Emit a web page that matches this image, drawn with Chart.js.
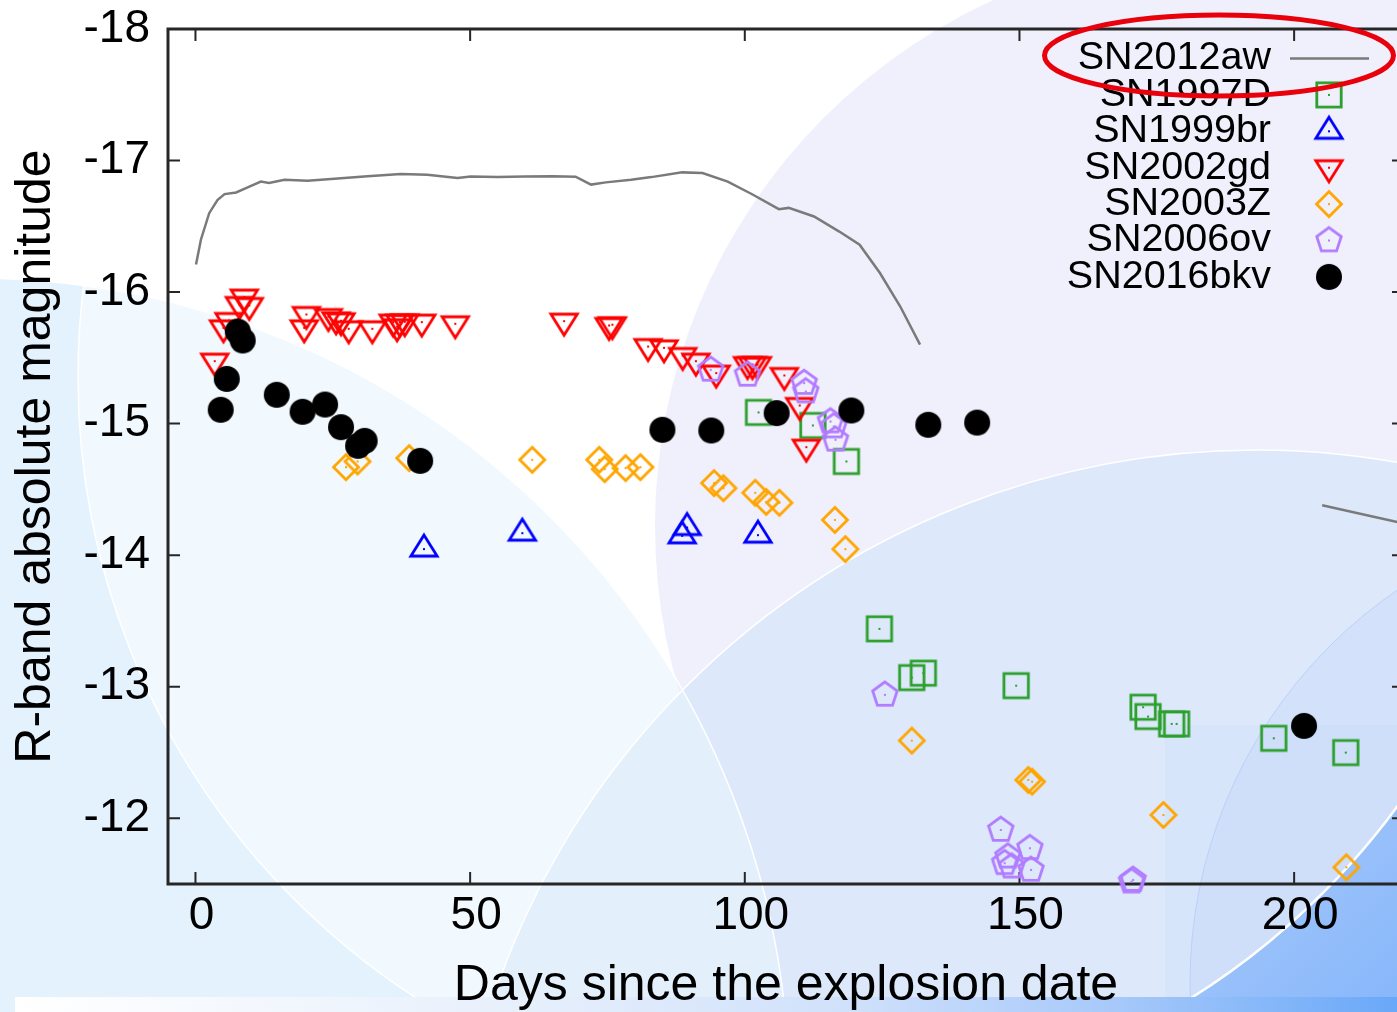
<!DOCTYPE html>
<html>
<head>
<meta charset="utf-8">
<title>SN2016bkv R-band light curve</title>
<script src="https://cdn.jsdelivr.net/npm/chart.js@4.4.1/dist/chart.umd.min.js"></script>
<style>
  html, body { margin: 0; padding: 0; overflow: hidden; background: #fff; }
  canvas { display: block; }
</style>
</head>
<body>
<canvas id="lc" width="1420" height="1012"></canvas>
<script>
// axis ticks
const xTickValues = [0, 50, 100, 150, 200];
const yTickValues = [-18, -17, -16, -15, -14, -13, -12];

// SN2012aw template (grey line), plateau part and late segment
const aw12Days = [0.1, 1.0, 2.5, 4.0, 5.3, 7.4, 9.5, 11.9, 13.4, 16.2, 20.4, 25.3, 31.3, 37.4, 42.2, 47.7, 50.1, 55.0, 60.0, 65.0, 69.2, 72.0, 74.7, 79.3, 83.0, 88.6, 92.3, 96.9, 101.5, 106.2, 108.0, 112.6, 117.2, 120.9, 124.6, 128.3, 131.9];
const aw12Mag = [-16.21, -16.40, -16.60, -16.70, -16.745, -16.757, -16.796, -16.84, -16.83, -16.854, -16.846, -16.862, -16.88, -16.897, -16.892, -16.867, -16.879, -16.875, -16.878, -16.88, -16.877, -16.817, -16.834, -16.854, -16.874, -16.91, -16.905, -16.84, -16.74, -16.63, -16.64, -16.575, -16.46, -16.36, -16.145, -15.89, -15.60];
const aw12TailDays = [205.1, 220.0];
const aw12TailMag = [-14.38, -14.24];

const sn1997dDays = [102.5, 112.4, 118.5, 124.5, 130.4, 132.5, 149.4, 172.5, 173.4, 177.7, 178.6, 196.3, 209.4];
const sn1997dMag = [-15.085, -14.986, -14.712, -13.44, -13.069, -13.103, -13.008, -12.844, -12.773, -12.717, -12.717, -12.608, -12.499];

const sn1999brDays = [41.6, 59.5, 88.6, 89.5, 102.4];
const sn1999brMag = [-14.046, -14.167, -14.147, -14.21, -14.152];

const sn2002gdDays = [3.5, 5.1, 6.1, 8.0, 8.9, 9.8, 19.8, 20.2, 24.2, 25.6, 26.5, 27.9, 32.2, 36.0, 36.7, 37.2, 38.1, 41.2, 47.3, 67.1, 75.3, 75.9, 82.4, 85.3, 88.7, 91.1, 94.8, 100.5, 101.4, 102.3, 107.2, 110.0, 111.2];
const sn2002gdMag = [-15.475, -15.728, -15.784, -15.906, -15.962, -15.898, -15.728, -15.83, -15.814, -15.789, -15.782, -15.721, -15.721, -15.772, -15.736, -15.772, -15.774, -15.772, -15.759, -15.779, -15.746, -15.752, -15.586, -15.576, -15.518, -15.475, -15.384, -15.449, -15.449, -15.449, -15.366, -15.138, -14.821];

const sn2003zDays = [27.4, 29.5, 38.9, 61.3, 73.5, 74.5, 78.3, 81.0, 94.4, 96.1, 101.9, 103.9, 106.3, 116.4, 118.3, 130.4, 151.6, 152.3, 176.2, 209.5];
const sn2003zMag = [-14.669, -14.712, -14.738, -14.725, -14.725, -14.654, -14.662, -14.669, -14.548, -14.509, -14.474, -14.405, -14.398, -14.268, -14.046, -12.59, -12.291, -12.278, -12.025, -11.627];

const sn2006ovDays = [93.8, 100.5, 110.8, 111.1, 115.6, 116.2, 116.5, 125.5, 146.6, 147.3, 147.9, 148.6, 151.9, 152.1, 170.4, 170.7];
const sn2006ovMag = [-15.409, -15.371, -15.308, -15.244, -15.016, -14.978, -14.877, -12.938, -11.911, -11.658, -11.708, -11.632, -11.772, -11.607, -11.518, -11.531];

const sn2016bkvDays = [4.6, 5.7, 7.7, 8.6, 14.8, 19.5, 23.6, 26.5, 29.6, 30.8, 40.9, 85.0, 93.9, 105.8, 119.4, 133.4, 142.3, 201.8];
const sn2016bkvMag = [-15.105, -15.34, -15.70, -15.632, -15.219, -15.09, -15.145, -14.973, -14.831, -14.869, -14.717, -14.953, -14.948, -15.08, -15.1, -14.991, -15.008, -12.702];

const FONT = "'Liberation Sans', Arial, Helvetica, sans-serif";
const W = 1420, H = 1012;
const LINE_GREY = '#7a7a7a';

// gnuplot-like open symbols with a dot at the data point
function makeMarker(shape, color) {
  const c = document.createElement('canvas');
  c.width = 38; c.height = 38;
  const g = c.getContext('2d');
  g.translate(19, 19);
  g.strokeStyle = color;
  g.fillStyle = color;
  g.lineWidth = 2.8;
  g.lineJoin = 'miter';
  g.beginPath();
  if (shape === 'disc') {
    g.arc(0, 0, 13, 0, Math.PI * 2);
    g.fill();
    return c;
  }
  if (shape === 'square') {
    g.rect(-12.2, -12.2, 24.4, 24.4);
  } else if (shape === 'up') {
    g.moveTo(0, -14); g.lineTo(13.2, 7); g.lineTo(-13.2, 7); g.closePath();
  } else if (shape === 'down') {
    g.moveTo(0, 14); g.lineTo(13.2, -7); g.lineTo(-13.2, -7); g.closePath();
  } else if (shape === 'diamond') {
    g.moveTo(0, -12.5); g.lineTo(12.5, 0); g.lineTo(0, 12.5); g.lineTo(-12.5, 0); g.closePath();
  } else if (shape === 'pentagon') {
    for (let k = 0; k < 5; k++) {
      const a = -Math.PI / 2 + k * 2 * Math.PI / 5;
      const px = 12.9 * Math.cos(a), py = 12.9 * Math.sin(a);
      if (k === 0) g.moveTo(px, py); else g.lineTo(px, py);
    }
    g.closePath();
  }
  g.stroke();
  g.fillRect(-1, -1, 2, 2);
  return c;
}

const pts = (days, mags) => days.map((x, i) => ({ x, y: mags[i] }));

const series = [
  { label: 'SN1997D', data: pts(sn1997dDays, sn1997dMag), marker: makeMarker('square', '#2c9f2c') },
  { label: 'SN1999br', data: pts(sn1999brDays, sn1999brMag), marker: makeMarker('up', '#0000ff') },
  { label: 'SN2002gd', data: pts(sn2002gdDays, sn2002gdMag), marker: makeMarker('down', '#ff0000') },
  { label: 'SN2003Z', data: pts(sn2003zDays, sn2003zMag), marker: makeMarker('diamond', '#ffa500') },
  { label: 'SN2006ov', data: pts(sn2006ovDays, sn2006ovMag), marker: makeMarker('pentagon', '#b27cff') },
  { label: 'SN2016bkv', data: pts(sn2016bkvDays, sn2016bkvMag), marker: makeMarker('disc', '#000000') }
];

const datasets = [
  { label: 'SN2012aw', data: pts(aw12Days, aw12Mag), showLine: true, borderColor: LINE_GREY, borderWidth: 2.5,
    pointRadius: 0, order: 20, inKey: true },
  { label: 'SN2012aw', data: pts(aw12TailDays, aw12TailMag), showLine: true, borderColor: LINE_GREY, borderWidth: 2.5,
    pointRadius: 0, order: 21, inKey: false }
].concat(series.map((s, i) => ({
  label: s.label,
  data: s.data,
  showLine: false,
  pointStyle: s.marker,
  pointRadius: 13,
  pointHoverRadius: 13,
  clip: false,
  order: series.length - i,
  inKey: true
})));

function circle(ctx, cx, cy, r) {
  ctx.beginPath();
  ctx.arc(cx, cy, r, 0, Math.PI * 2);
}

// soft overlapping discs behind the plot
const backdrop = {
  id: 'backdrop',
  beforeDraw(chart) {
    const ctx = chart.ctx;
    const A = [-26, 1093, 815], C = [817, 377, 739], L = [1233, 526, 578], B = [1256, 1255, 805];
    const E = [1666, 983, 476], F = [794, 364, 748];
    ctx.save();
    ctx.fillStyle = '#ffffff';
    ctx.fillRect(0, 0, W, H);

    circle(ctx, ...A); ctx.fillStyle = '#e3f2fd'; ctx.fill();

    ctx.save();
    circle(ctx, ...A); ctx.clip();
    circle(ctx, ...C);
    ctx.fillStyle = 'rgba(255,255,255,0.55)'; ctx.fill();
    ctx.strokeStyle = '#ffffff'; ctx.lineWidth = 1.5; ctx.stroke();
    ctx.restore();

    circle(ctx, ...L); ctx.fillStyle = '#f0f0fd'; ctx.fill();
    circle(ctx, ...B); ctx.fillStyle = '#dde9fb'; ctx.fill();

    ctx.save();
    circle(ctx, ...B); ctx.clip();
    circle(ctx, ...A); ctx.fillStyle = '#e4effc'; ctx.fill();
    ctx.restore();

    ctx.strokeStyle = '#ffffff'; ctx.lineWidth = 1.5;
    circle(ctx, ...A); ctx.stroke();
    circle(ctx, ...B); ctx.stroke();

    ctx.fillStyle = 'rgba(200,220,250,0.25)';
    ctx.fillRect(1165, 725, W - 1165, 272);

    circle(ctx, ...E);
    ctx.fillStyle = 'rgba(190,208,250,0.3)'; ctx.fill();
    ctx.strokeStyle = '#bcd0f9'; ctx.lineWidth = 1; ctx.stroke();

    // deeper blue corner beyond the white arc
    ctx.save();
    ctx.beginPath();
    ctx.rect(1150, 760, W - 1150, H - 760);
    ctx.clip();
    ctx.beginPath();
    ctx.rect(0, 0, W, H);
    ctx.arc(F[0], F[1], F[2], 0, Math.PI * 2, true);
    const gb = ctx.createLinearGradient(1200, 800, 1400, 1012);
    gb.addColorStop(0, '#aacbfb');
    gb.addColorStop(1, '#86b6fa');
    ctx.fillStyle = gb;
    ctx.fill('evenodd');
    circle(ctx, ...F); ctx.strokeStyle = '#ffffff'; ctx.lineWidth = 2.5; ctx.stroke();
    ctx.restore();

    const gs = ctx.createLinearGradient(15, 0, 1397, 0);
    gs.addColorStop(0, '#ffffff');
    gs.addColorStop(0.35, '#e8f0fc');
    gs.addColorStop(0.6, '#d0e1fb');
    gs.addColorStop(0.8, '#a6c8fa');
    gs.addColorStop(1, '#69a8f8');
    ctx.fillStyle = gs;
    ctx.fillRect(15, 997, W - 15, H - 997);
    ctx.restore();
  }
};

// plot border with inward ticks on all four sides
const frame = {
  id: 'frame',
  beforeDatasetsDraw(chart) {
    const { ctx, chartArea: a, scales: { x, y } } = chart;
    ctx.save();
    ctx.strokeStyle = '#262626';
    ctx.lineWidth = 2;
    ctx.beginPath();
    xTickValues.forEach(v => {
      const px = x.getPixelForValue(v);
      ctx.moveTo(px, a.bottom); ctx.lineTo(px, a.bottom - 12);
      ctx.moveTo(px, a.top); ctx.lineTo(px, a.top + 12);
    });
    yTickValues.forEach(v => {
      const py = y.getPixelForValue(v);
      ctx.moveTo(a.left, py); ctx.lineTo(a.left + 12, py);
      ctx.moveTo(a.right, py); ctx.lineTo(a.right - 12, py);
    });
    ctx.stroke();
    ctx.lineWidth = 3;
    ctx.strokeRect(a.left, a.top, a.width, a.height);
    ctx.restore();
  }
};

// key in the upper right corner, with a hand-drawn ring round the first entry
const keyBox = {
  id: 'keyBox',
  afterDraw(chart) {
    const ctx = chart.ctx;
    const textRight = 1271, symX = 1329, row0 = 58.5, rowStep = 36.4;
    ctx.save();
    ctx.font = '39.5px ' + FONT;
    ctx.textAlign = 'right';
    ctx.textBaseline = 'middle';
    ctx.fillStyle = '#000';
    chart.data.datasets.filter(d => d.inKey).forEach((d, i) => {
      const yy = row0 + i * rowStep;
      ctx.fillText(d.label, textRight, yy);
      if (d.showLine) {
        ctx.strokeStyle = d.borderColor;
        ctx.lineWidth = d.borderWidth;
        ctx.beginPath();
        ctx.moveTo(1290, yy); ctx.lineTo(1369, yy);
        ctx.stroke();
      } else {
        const m = d.pointStyle;
        ctx.drawImage(m, symX - m.width / 2, yy - m.height / 2);
      }
    });
    ctx.strokeStyle = '#e8000b';
    ctx.lineWidth = 5;
    ctx.beginPath();
    ctx.ellipse(1219, 55.5, 174.5, 40.5, 0, 0, Math.PI * 2);
    ctx.stroke();
    ctx.restore();
  }
};

Chart.defaults.font.family = FONT;

new Chart(document.getElementById('lc'), {
  type: 'scatter',
  data: { datasets },
  options: {
    responsive: false,
    animation: false,
    devicePixelRatio: 1,
    events: [],
    layout: { padding: { left: 0, top: 29, right: 16, bottom: 0 } },
    plugins: { legend: { display: false }, tooltip: { enabled: false } },
    scales: {
      x: {
        type: 'linear',
        min: -5,
        max: 220,
        afterBuildTicks: s => { s.ticks = xTickValues.map(value => ({ value })); },
        afterFit: s => { s.height = 128; s.paddingLeft = 0; s.paddingRight = 0; },
        grid: { display: false, drawTicks: false },
        border: { display: false },
        ticks: { color: '#000', font: { size: 46 }, padding: 5, labelOffset: 6, maxRotation: 0, autoSkip: false },
        title: {
          display: true,
          text: 'Days since the explosion date',
          color: '#000',
          font: { size: 50, lineHeight: 1 },
          padding: { top: 0, bottom: 1 }
        }
      },
      y: {
        type: 'linear',
        reverse: true,
        min: -18,
        max: -11.5,
        afterBuildTicks: s => { s.ticks = yTickValues.map(value => ({ value })); },
        afterFit: s => { s.width = 168; s.paddingTop = 0; s.paddingBottom = 0; },
        grid: { display: false, drawTicks: false },
        border: { display: false },
        ticks: { color: '#000', font: { size: 46 }, padding: 18, autoSkip: false },
        title: {
          display: true,
          text: 'R-band absolute magnitude',
          color: '#000',
          font: { size: 50, lineHeight: 1 },
          padding: { top: 11, bottom: 0 }
        }
      }
    }
  },
  plugins: [backdrop, frame, keyBox]
});
</script>
</body>
</html>
